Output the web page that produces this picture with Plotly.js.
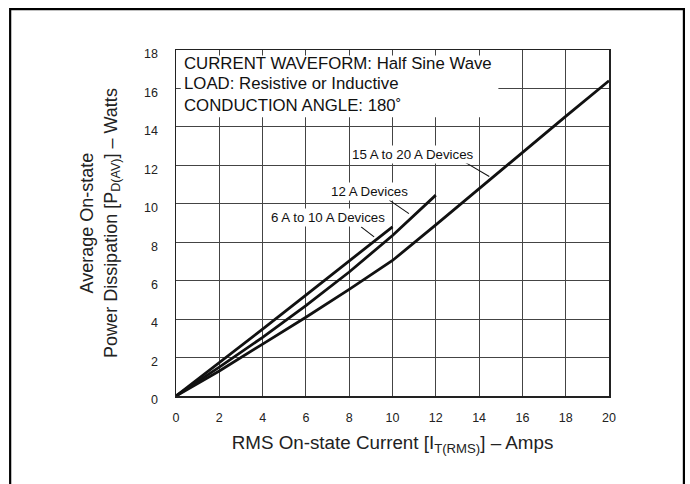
<!DOCTYPE html>
<html>
<head>
<meta charset="utf-8">
<script src="https://cdn.plot.ly/plotly-3.0.1.min.js"></script>
<style>
html,body{margin:0;padding:0;background:#fff;}
#chart{width:690px;height:484px;}
</style>
</head>
<body>
<div id="chart"></div>
<script>
// Data
const xSmall = [0, 2, 4, 6, 8, 10];
const ySmall = [0, 1.72, 3.48, 5.25, 7.02, 8.8];          // 6 A to 10 A Devices
const xMid = [0, 2, 4, 6, 8, 10, 12];
const yMid = [0, 1.5, 3.05, 4.7, 6.45, 8.35, 10.45];      // 12 A Devices
const xLarge = [0, 2, 4, 6, 8, 10, 12, 14, 16, 18, 20];
const yLarge = [0, 1.3, 2.7, 4.1, 5.55, 7.05, 8.9, 10.8, 12.7, 14.55, 16.4]; // 15 A to 20 A Devices

const seriesNames = ['6 A to 10 A Devices', '12 A Devices', '15 A to 20 A Devices'];
const xTickVals = [0, 2, 4, 6, 8, 10, 12, 14, 16, 18, 20];
const yTickVals = [0, 2, 4, 6, 8, 10, 12, 14, 16, 18];
const infoLines = ['CURRENT WAVEFORM: Half Sine Wave', 'LOAD: Resistive or Inductive', 'CONDUCTION ANGLE: 180˚'];

const lineStyle = {color: '#111', width: 2.8};
const traces = [
  {x: xSmall, y: ySmall, name: seriesNames[0]},
  {x: xMid, y: yMid, name: seriesNames[1]},
  {x: xLarge, y: yLarge, name: seriesNames[2]}
].map(t => Object.assign(t, {type: 'scatter', mode: 'lines', line: lineStyle, hoverinfo: 'skip'}));

const font = 'Liberation Sans, Arial, Helvetica, sans-serif';

const annotations = [];
const infoY = [17.29, 16.25, 15.13];
infoLines.forEach((t, i) => annotations.push({
  xref: 'x', yref: 'y', x: 0.3, y: infoY[i], xanchor: 'left', yanchor: 'middle',
  text: t, showarrow: false, font: {family: font, size: 16.8, color: '#111'}
}));
const labelPos = [[7.0, 9.29], [8.94, 10.62], [10.95, 12.58]];
seriesNames.forEach((n, i) => annotations.push({
  xref: 'x', yref: 'y', x: labelPos[i][0], y: labelPos[i][1], xanchor: 'center', yanchor: 'middle',
  text: n, showarrow: false, bgcolor: '#fff', borderpad: 1, font: {family: font, size: 13.3, color: '#111'}
}));

const leaders = [[8.55, 8.8, 9.15, 8.28], [9.85, 10.19, 10.76, 9.49], [13.32, 12.18, 14.47, 11.42]];
const shapes = [
  {type: 'rect', xref: 'x', yref: 'y', x0: 0.22, x1: 14.89, y0: 14.5, y1: 17.72,
   fillcolor: '#fff', line: {width: 0}, layer: 'above'},
  {type: 'rect', xref: 'paper', yref: 'paper', x0: -0.383, x1: 1.173, y0: -0.3, y1: 1.118,
   fillcolor: 'rgba(0,0,0,0)', line: {color: '#000', width: 2.2}}
];
leaders.forEach(l => shapes.push({type: 'line', xref: 'x', yref: 'y', x0: l[0], y0: l[1], x1: l[2], y1: l[3],
  line: {color: '#111', width: 1.1}}));

const layout = {
  width: 690, height: 484,
  margin: {l: 176, r: 81, t: 50, b: 88, pad: 0},
  paper_bgcolor: '#fff', plot_bgcolor: '#fff',
  showlegend: false,
  font: {family: font, color: '#222'},
  xaxis: {
    range: [0, 20], tickvals: xTickVals, ticks: '', showgrid: true, gridcolor: '#444', gridwidth: 1.2,
    showline: true, linecolor: '#222', linewidth: 1.5, mirror: true, zeroline: false,
    tickfont: {family: font, size: 12.5, color: '#222'}, ticklabelstandoff: 9,
    title: {text: 'RMS On-state Current [I<sub>T(RMS)</sub>] – Amps', font: {family: font, size: 18.8, color: '#222'}, standoff: 12}
  },
  yaxis: {
    range: [0, 18], tickvals: yTickVals, ticks: '', showgrid: true, gridcolor: '#444', gridwidth: 1.2,
    showline: true, linecolor: '#222', linewidth: 1.5, mirror: true, zeroline: false,
    tickfont: {family: font, size: 12.5, color: '#222'}, ticklabelstandoff: 14, ticklabelshift: 4,
    title: {text: 'Average On-state<br>Power Dissipation [P<sub>D(AV)</sub>] – Watts', font: {family: font, size: 18, color: '#222'}, standoff: 22}
  },
  annotations: annotations,
  shapes: shapes
};

Plotly.newPlot('chart', traces, layout, {staticPlot: true, displayModeBar: false});
</script>
</body>
</html>
